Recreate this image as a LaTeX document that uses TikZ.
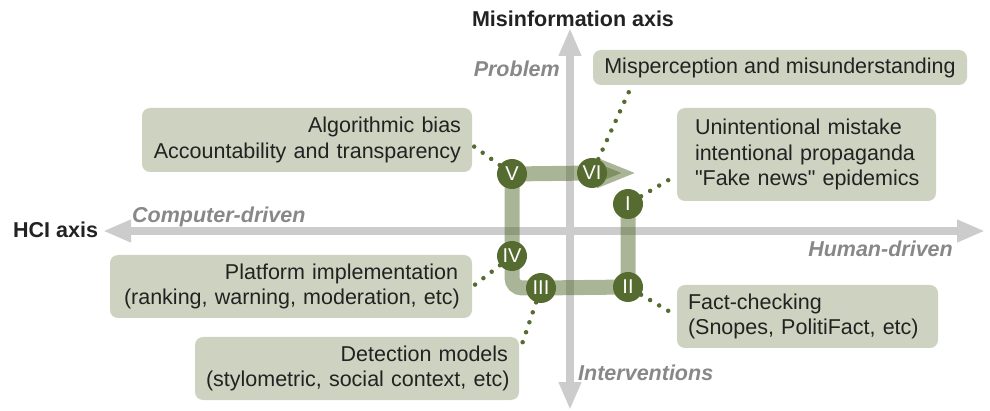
\documentclass[tikz,border=0pt]{standalone}
\usepackage{fontspec}
\setmainfont{Liberation Sans}
\newfontfamily\plainfont{Liberation Sans}
\usetikzlibrary{arrows.meta}
\definecolor{darkolive}{HTML}{566B30}
\definecolor{boxfill}{HTML}{CDD3C0}
\definecolor{axisgray}{HTML}{CCCCCC}
\definecolor{labelgray}{HTML}{888888}
\definecolor{ink}{HTML}{222222}
\newcommand{\straightq}{{\plainfont"}}
\begin{document}
\begin{tikzpicture}[x=1pt,y=-1pt,
  txt/.style={font=\fontsize{21.5}{25.5}\selectfont, text=ink},
  axislabel/.style={font=\fontsize{21.5}{25.5}\selectfont\bfseries, text=ink, inner sep=0pt},
  sidelabel/.style={font=\fontsize{21.5}{25.5}\selectfont\bfseries\itshape, text=labelgray, inner sep=0pt},
  axisarrow/.style={draw=axisgray, line width=8pt, {Triangle[length=28pt,width=21pt]}-{Triangle[length=28pt,width=21pt]}},
  flow/.style={draw=darkolive, draw opacity=0.5, fill opacity=0.5, line width=15pt, rounded corners=10pt, -{Triangle[length=40pt,width=27pt]}},
  infobox/.style={txt, fill=boxfill, rounded corners=8pt, inner ysep=0pt},
  stage/.style={circle, fill=darkolive, text=white, minimum size=30pt, inner sep=0pt, font=\fontsize{20}{20}\selectfont},
  dotline/.style={draw=darkolive, line width=4.5pt, line cap=round, dash pattern=on 0pt off 10.5pt}
]
\useasboundingbox (0,0) rectangle (990,411);

% axes
\coordinate (hl) at (103,231);
\coordinate (hr) at (985,231);
\coordinate (vt) at (570,28);
\coordinate (vb) at (570,410);
\draw[axisarrow] (hl) -- (hr);
\draw[axisarrow] (vb) -- (vt);

% axis labels
\node[axislabel, anchor=base] (mis) at (573,27) {Misinformation axis};
\node[axislabel, anchor=base west] (hci) at (13,238) {HCI axis};
\node[sidelabel, anchor=base west] (comp) at (132,223) {Computer-driven};
\node[sidelabel, anchor=base east] (hum) at (953,257) {Human-driven};
\node[sidelabel, anchor=base east] (prob) at (560,77) {Problem};
\node[sidelabel, anchor=base west] (interv) at (578,381) {Interventions};

% stage positions
\coordinate (p1) at (628,204);
\coordinate (p2) at (628,287);
\coordinate (p3) at (541,288);
\coordinate (pk) at (512,288);
\coordinate (p4) at (512,256);
\coordinate (p5) at (512,174);
\coordinate (p6) at (592,173);
\coordinate (ptip) at (637,173);

% flow path
\draw[flow] (p1) -- (p2) -- (p3) -- (pk) -- (p4) -- (p5) -- (p6) -- (ptip);

% boxes
\node[infobox, minimum width=374pt, minimum height=35pt, align=center] (b1) at (780,67.5)
  {Misperception and misunderstanding};
\node[infobox, minimum width=259pt, minimum height=93pt, inner xsep=18pt, text width=223pt, align=left] (b2) at (806.5,154.5)
  {\mbox{Unintentional mistake}\\\mbox{intentional propaganda}\\\mbox{\straightq Fake news\straightq{} epidemics}};
\node[infobox, minimum width=330pt, minimum height=64pt, inner xsep=11pt, text width=308pt, align=right] (b3) at (307,140)
  {\mbox{Algorithmic bias}\\\mbox{Accountability and transparency}};
\node[infobox, minimum width=362pt, minimum height=63pt, inner xsep=14pt, text width=334pt, align=right] (b4) at (291,286.5)
  {\mbox{Platform implementation}\\\mbox{(ranking, warning, moderation, etc)}};
\node[infobox, minimum width=324pt, minimum height=63pt, inner xsep=11pt, text width=302pt, align=right] (b5) at (357,368.5)
  {\mbox{Detection models}\\\mbox{(stylometric, social context, etc)}};
\node[infobox, minimum width=261pt, minimum height=63pt, inner xsep=11pt, text width=239pt, align=left] (b6) at (807.5,316.5)
  {\mbox{Fact-checking}\\\mbox{(Snopes, PolitiFact, etc)}};

% connector end points on boxes
\coordinate (e1) at (632,85);
\coordinate (e2) at (677,175);
\coordinate (e3) at (472,145);
\coordinate (e4) at (472,287);
\coordinate (e5) at (520,350);
\coordinate (e6) at (677,316);

% stages
\node[stage] (c1) at (p1) {I};
\node[stage] (c2) at (p2) {II};
\node[stage] (c3) at (p3) {III};
\node[stage] (c4) at (p4) {IV};
\node[stage] (c5) at (p5) {V};
\node[stage] (c6) at (p6) {VI};

% dotted connectors
\draw[dotline] (c6) -- (e1);
\draw[dotline] (c1) -- (e2);
\draw[dotline] (c5) -- (e3);
\draw[dotline] (c4) -- (e4);
\draw[dotline] (c3) -- (e5);
\draw[dotline] (c2) -- (e6);
\end{tikzpicture}
\end{document}
